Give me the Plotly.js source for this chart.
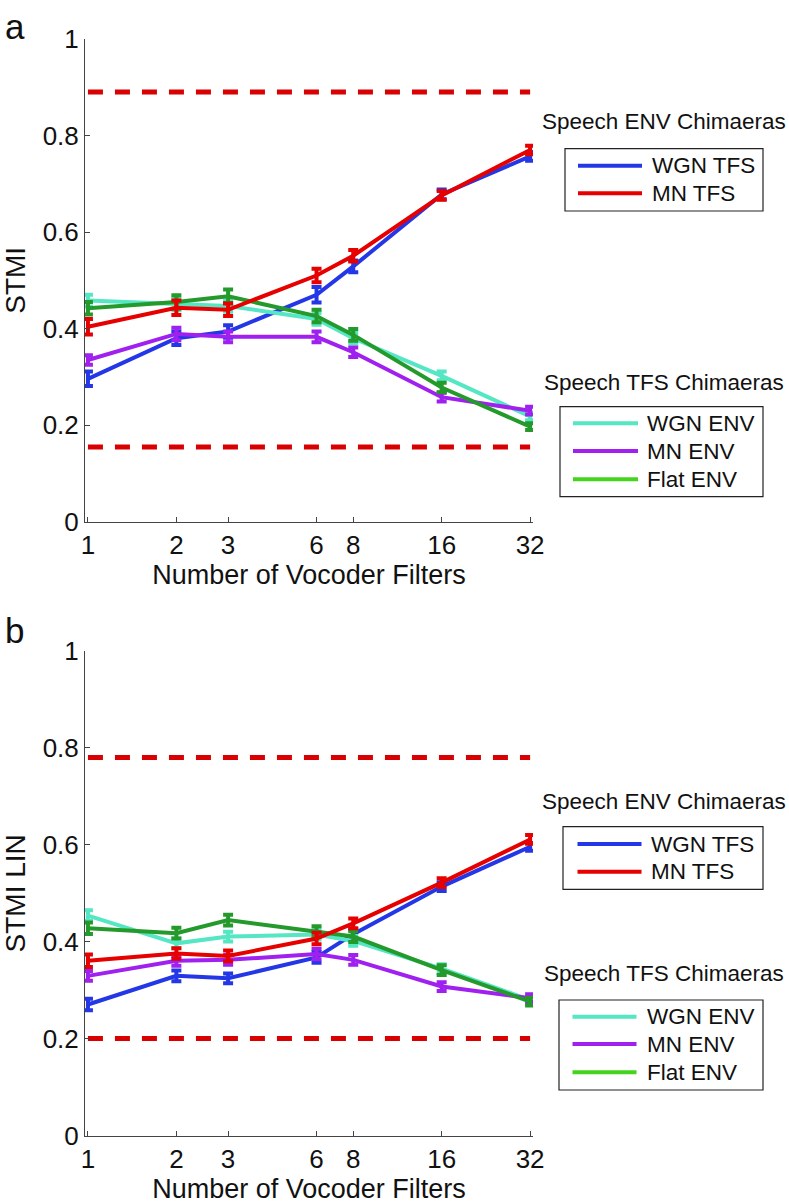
<!DOCTYPE html>
<html><head><meta charset="utf-8">
<script src="https://cdn.plot.ly/plotly-3.0.1.min.js"></script>
<style>html,body{margin:0;padding:0;background:#fff;} #chart{width:789px;height:1204px;}</style>
</head><body><div id="chart"></div>
<script>
// ---------- data ----------
const filters = [1, 2, 3, 6, 8, 16, 32];
const filterLabels = ['1', '2', '3', '6', '8', '16', '32'];
const yTickVals = [0, 0.2, 0.4, 0.6, 0.8, 1];
const yTickLabels = ['0', '0.2', '0.4', '0.6', '0.8', '1'];
const seriesNames = ['WGN TFS', 'MN TFS', 'WGN ENV', 'MN ENV', 'Flat ENV'];
const envLegendTitle = 'Speech ENV Chimaeras';
const tfsLegendTitle = 'Speech TFS Chimaeras';

// Panel a: STMI
const stmiWgnTfs  = [0.296, 0.380, 0.394, 0.470, 0.529, 0.678, 0.757];
const stmiMnTfs   = [0.404, 0.443, 0.439, 0.510, 0.551, 0.676, 0.770];
const stmiWgnEnv  = [0.458, 0.450, 0.447, 0.420, 0.380, 0.302, 0.218];
const stmiMnEnv   = [0.335, 0.389, 0.383, 0.383, 0.351, 0.258, 0.230];
const stmiFlatEnv = [0.442, 0.455, 0.467, 0.426, 0.387, 0.278, 0.197];
const stmiWgnTfsErr  = [0.015, 0.014, 0.013, 0.016, 0.012, 0.010, 0.009];
const stmiMnTfsErr   = [0.016, 0.015, 0.013, 0.014, 0.012, 0.009, 0.009];
const stmiWgnEnvErr  = [0.012, 0.012, 0.012, 0.012, 0.011, 0.009, 0.008];
const stmiMnEnvErr   = [0.010, 0.013, 0.011, 0.011, 0.010, 0.009, 0.008];
const stmiFlatEnvErr = [0.013, 0.014, 0.014, 0.013, 0.012, 0.010, 0.007];
const stmiRefLines = [0.890, 0.155];

// Panel b: STMI LIN
const linWgnTfs  = [0.271, 0.330, 0.325, 0.368, 0.416, 0.514, 0.596];
const linMnTfs   = [0.361, 0.376, 0.371, 0.407, 0.438, 0.522, 0.611];
const linWgnEnv  = [0.454, 0.397, 0.411, 0.415, 0.402, 0.345, 0.280];
const linMnEnv   = [0.330, 0.361, 0.363, 0.375, 0.363, 0.308, 0.284];
const linFlatEnv = [0.428, 0.418, 0.445, 0.421, 0.411, 0.342, 0.277];
const linWgnTfsErr  = [0.012, 0.011, 0.010, 0.011, 0.010, 0.009, 0.008];
const linMnTfsErr   = [0.013, 0.011, 0.011, 0.012, 0.010, 0.009, 0.009];
const linWgnEnvErr  = [0.011, 0.010, 0.010, 0.010, 0.010, 0.009, 0.008];
const linMnEnvErr   = [0.010, 0.010, 0.010, 0.011, 0.010, 0.009, 0.008];
const linFlatEnvErr = [0.012, 0.011, 0.011, 0.011, 0.011, 0.010, 0.008];
const linRefLines = [0.780, 0.201];

// ---------- styles ----------
const lineColors = {'WGN TFS': '#2437e6', 'MN TFS': '#e60000', 'WGN ENV': '#55e6c3', 'MN ENV': '#a020f0', 'Flat ENV': '#239a2b'};
const legendColors = {'WGN TFS': '#2437e6', 'MN TFS': '#e60000', 'WGN ENV': '#55e6c3', 'MN ENV': '#a020f0', 'Flat ENV': '#44d41e'};
const refColor = '#d80000';
const FONT = 'Liberation Sans, Arial, Helvetica, sans-serif';

const W = 789, H = 1204, L = 85, R = 256, T = 39, B = 68;
const pw = W - L - R, ph = H - T - B;
const px2x = p => (p - L) / pw;
const py2y = p => (H - B - p) / ph;

const panels = [
  {xa: 'x', ya: 'y', vals: {'WGN TFS': stmiWgnTfs, 'MN TFS': stmiMnTfs, 'WGN ENV': stmiWgnEnv, 'MN ENV': stmiMnEnv, 'Flat ENV': stmiFlatEnv},
   errs: {'WGN TFS': stmiWgnTfsErr, 'MN TFS': stmiMnTfsErr, 'WGN ENV': stmiWgnEnvErr, 'MN ENV': stmiMnEnvErr, 'Flat ENV': stmiFlatEnvErr},
   refs: stmiRefLines},
  {xa: 'x2', ya: 'y2', vals: {'WGN TFS': linWgnTfs, 'MN TFS': linMnTfs, 'WGN ENV': linWgnEnv, 'MN ENV': linMnEnv, 'Flat ENV': linFlatEnv},
   errs: {'WGN TFS': linWgnTfsErr, 'MN TFS': linMnTfsErr, 'WGN ENV': linWgnEnvErr, 'MN ENV': linMnEnvErr, 'Flat ENV': linFlatEnvErr},
   refs: linRefLines}
];

const drawOrder = ['WGN TFS', 'WGN ENV', 'MN ENV', 'Flat ENV', 'MN TFS'];
const traces = [];
panels.forEach(p => {
  p.refs.forEach(v => {
    traces.push({x: [filters[0], filters[filters.length - 1]], y: [v, v], xaxis: p.xa, yaxis: p.ya,
      mode: 'lines', line: {color: refColor, width: 5, dash: '15px,12px'}, showlegend: false, hoverinfo: 'skip'});
  });
  drawOrder.forEach(n => {
    traces.push({x: filters, y: p.vals[n], xaxis: p.xa, yaxis: p.ya, name: n, mode: 'lines',
      line: {color: lineColors[n], width: 4},
      error_y: {type: 'data', array: p.errs[n], visible: true, color: lineColors[n], thickness: 4, width: 5},
      showlegend: false});
  });
});

// ---------- manual legends (MATLAB style) ----------
const legends = [
  {title: envLegendTitle, names: ['WGN TFS', 'MN TFS'], titleY: 122, box: [565, 763, 148.7, 211], rows: [165.7, 193.3], line: [578, 642], textX: 650},
  {title: tfsLegendTitle, names: ['WGN ENV', 'MN ENV', 'Flat ENV'], titleY: 382, box: [560, 763, 406.7, 496.7], rows: [423.3, 451, 479.3], line: [573, 638], textX: 645},
  {title: envLegendTitle, names: ['WGN TFS', 'MN TFS'], titleY: 801, box: [563, 763, 826.7, 889.3], rows: [844, 871.7], line: [577.5, 641.5], textX: 649},
  {title: tfsLegendTitle, names: ['WGN ENV', 'MN ENV', 'Flat ENV'], titleY: 973.5, box: [559, 763, 1000, 1090], rows: [1016.7, 1044, 1072.3], line: [572.5, 636.5], textX: 645}
];
const shapes = [];
const annotations = [];
legends.forEach(lg => {
  shapes.push({type: 'rect', xref: 'paper', yref: 'paper', x0: px2x(lg.box[0]), x1: px2x(lg.box[1]),
    y0: py2y(lg.box[2]), y1: py2y(lg.box[3]), line: {color: '#222', width: 1.2}, fillcolor: 'rgba(255,255,255,0)'});
  annotations.push({xref: 'paper', yref: 'paper', x: px2x(663.5), y: py2y(lg.titleY), text: lg.title, showarrow: false,
    xanchor: 'center', yanchor: 'middle', font: {size: 22.5, color: '#111', family: FONT}});
  lg.names.forEach((n, i) => {
    shapes.push({type: 'line', xref: 'paper', yref: 'paper', x0: px2x(lg.line[0]), x1: px2x(lg.line[1]),
      y0: py2y(lg.rows[i]), y1: py2y(lg.rows[i]), line: {color: legendColors[n], width: 4}});
    annotations.push({xref: 'paper', yref: 'paper', x: px2x(lg.textX), y: py2y(lg.rows[i]), text: n, showarrow: false,
      xanchor: 'left', yanchor: 'middle', font: {size: 22.5, color: '#111', family: FONT}});
  });
});
// panel letters
annotations.push({xref: 'paper', yref: 'paper', x: px2x(15), y: py2y(27), text: 'a', showarrow: false,
  xanchor: 'center', yanchor: 'middle', font: {size: 35, color: '#111', family: FONT}});
annotations.push({xref: 'paper', yref: 'paper', x: px2x(14), y: py2y(630), text: 'b', showarrow: false,
  xanchor: 'center', yanchor: 'middle', font: {size: 35, color: '#111', family: FONT}});

const xCommon = {type: 'log', range: [-0.01, 1.515], tickvals: filters, ticktext: filterLabels,
  ticks: 'inside', ticklen: 5, tickcolor: '#444', showline: true, linecolor: '#444', linewidth: 1,
  showgrid: false, zeroline: false, tickfont: {size: 26, color: '#111'},
  title: {text: 'Number of Vocoder Filters', font: {size: 27, color: '#111'}, standoff: 0}};
const yCommon = {range: [0, 1], tickvals: yTickVals, ticktext: yTickLabels,
  ticks: 'inside', ticklen: 5, tickcolor: '#444', showline: true, linecolor: '#444', linewidth: 1,
  showgrid: false, zeroline: false, tickfont: {size: 26, color: '#111'}};

const layout = {
  width: W, height: H, margin: {l: L, r: R, t: T, b: B, pad: 0},
  paper_bgcolor: '#fff', plot_bgcolor: '#fff', showlegend: false,
  font: {family: FONT, color: '#111'},
  xaxis: Object.assign({}, xCommon, {domain: [0, 1], anchor: 'y'}),
  yaxis: Object.assign({}, yCommon, {domain: [py2y(521.7), 1], anchor: 'x', title: {text: 'STMI', font: {size: 28, color: '#111'}, standoff: 8}}),
  xaxis2: Object.assign({}, xCommon, {domain: [0, 1], anchor: 'y2'}),
  yaxis2: Object.assign({}, yCommon, {domain: [0, py2y(650.7)], anchor: 'x2', title: {text: 'STMI LIN', font: {size: 28, color: '#111'}, standoff: 8}}),
  shapes: shapes, annotations: annotations
};

Plotly.newPlot('chart', traces, layout, {displayModeBar: false, responsive: false});
</script>
</body></html>
